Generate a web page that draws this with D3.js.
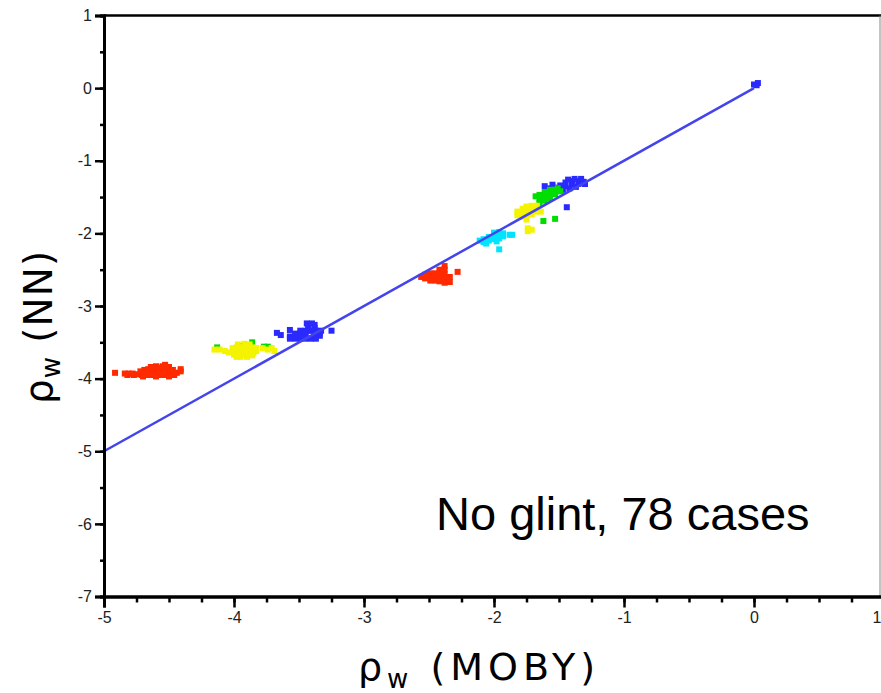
<!DOCTYPE html>
<html>
<head>
<meta charset="utf-8">
<script src="https://cdn.jsdelivr.net/npm/d3@7"></script>
<style>
  body { margin: 0; background: #fff; }
  svg { display: block; }
</style>
</head>
<body>
<script>
var w = 881;
var h = 693;

// data (rho_w MOBY vs rho_w NN)
var redPts = [
  [-4.915, -3.92], [-4.84, -3.93], [-4.81, -3.93], [-4.78, -3.93], [-4.75, -3.94], [-4.82, -3.95], [-4.77, -3.95],
  [-4.71, -3.92], [-4.68, -3.92], [-4.65, -3.91], [-4.62, -3.91], [-4.58, -3.91], [-4.55, -3.91], [-4.52, -3.91], [-4.49, -3.91], [-4.46, -3.92], [-4.44, -3.92],
  [-4.71, -3.95], [-4.68, -3.95], [-4.65, -3.95], [-4.62, -3.95], [-4.58, -3.95], [-4.55, -3.95], [-4.52, -3.95], [-4.49, -3.95], [-4.46, -3.95],
  [-4.66, -3.87], [-4.63, -3.87], [-4.6, -3.86], [-4.56, -3.87], [-4.53, -3.86], [-4.5, -3.87],
  [-4.6, -3.83], [-4.53, -3.81], [-4.55, -3.83], [-4.41, -3.87], [-4.41, -3.9],
  [-4.64, -3.84], [-4.57, -3.85], [-4.5, -3.84], [-4.47, -3.88], [-4.69, -3.88], [-4.72, -3.9],
  [-4.7, -3.97], [-4.6, -3.97], [-4.5, -3.97],
  [-2.56, -2.6], [-2.53, -2.57], [-2.53, -2.62], [-2.49, -2.55], [-2.49, -2.6], [-2.49, -2.65], [-2.45, -2.55], [-2.45, -2.6], [-2.45, -2.65],
  [-2.42, -2.5], [-2.42, -2.55], [-2.42, -2.6], [-2.42, -2.66], [-2.38, -2.45], [-2.38, -2.5], [-2.38, -2.56], [-2.38, -2.62], [-2.38, -2.68],
  [-2.34, -2.6], [-2.34, -2.67], [-2.28, -2.53]
];
var yellowPts = [
  [-4.15, -3.6], [-4.11, -3.6], [-4.07, -3.62], [-4.04, -3.64],
  [-4.01, -3.58], [-3.98, -3.57], [-3.95, -3.57], [-3.92, -3.56], [-3.89, -3.56], [-3.86, -3.57], [-3.83, -3.58],
  [-4.01, -3.62], [-3.98, -3.62], [-3.95, -3.62], [-3.92, -3.62], [-3.89, -3.62], [-3.86, -3.62], [-3.83, -3.62],
  [-4.0, -3.67], [-3.97, -3.67], [-3.94, -3.67], [-3.91, -3.67], [-3.88, -3.66], [-3.85, -3.65], [-3.95, -3.7],
  [-3.97, -3.53], [-3.92, -3.52], [-3.88, -3.53], [-3.9, -3.7], [-3.98, -3.7], [-3.86, -3.68],
  [-3.78, -3.58], [-3.74, -3.6], [-3.71, -3.58], [-3.69, -3.62],
  [-1.82, -1.75], [-1.82, -1.7], [-1.78, -1.66], [-1.78, -1.72], [-1.78, -1.77], [-1.75, -1.63], [-1.75, -1.69], [-1.75, -1.75], [-1.75, -1.81],
  [-1.71, -1.62], [-1.71, -1.68], [-1.71, -1.74], [-1.67, -1.62], [-1.67, -1.7], [-1.64, -1.7], [-1.74, -1.93], [-1.74, -1.97], [-1.71, -1.95]
];
var greenPts = [
  [-4.13, -3.57], [-3.86, -3.5], [-3.77, -3.56], [-3.74, -3.56], [-3.95, -3.55],
  [-1.68, -1.49], [-1.65, -1.47], [-1.65, -1.53], [-1.65, -1.58], [-1.61, -1.43], [-1.61, -1.49], [-1.61, -1.55], [-1.57, -1.4],
  [-1.57, -1.46], [-1.57, -1.52], [-1.53, -1.4], [-1.53, -1.46], [-1.49, -1.42], [-1.62, -1.83], [-1.53, -1.8],
  [-1.55, -1.43], [-1.59, -1.5], [-1.63, -1.51], [-1.51, -1.38]
];
var cyanPts = [
  [-2.11, -2.1], [-2.08, -2.08], [-2.08, -2.12], [-2.04, -2.05], [-2.04, -2.1], [-2.0, -2.03], [-2.0, -2.08], [-1.96, -1.98],
  [-1.96, -2.03], [-1.96, -2.07], [-1.93, -2.0], [-1.93, -2.04], [-1.88, -2.02], [-1.86, -2.02], [-1.96, -2.22],
  [-2.0, -1.99], [-1.98, -2.11], [-2.06, -2.14]
];
var bluePts = [
  [-3.67, -3.37], [-3.64, -3.4], [-3.57, -3.33], [-3.57, -3.42], [-3.53, -3.38], [-3.53, -3.42], [-3.49, -3.38], [-3.49, -3.42], [-3.45, -3.38], [-3.45, -3.42],
  [-3.43, -3.3], [-3.42, -3.34], [-3.38, -3.3], [-3.38, -3.38], [-3.38, -3.42], [-3.34, -3.38], [-3.34, -3.41], [-3.25, -3.34],
  [-3.57, -3.45], [-3.53, -3.45], [-3.49, -3.45], [-3.45, -3.45], [-3.41, -3.45], [-3.37, -3.45],
  [-3.49, -3.34], [-3.45, -3.34], [-3.41, -3.34], [-3.37, -3.34], [-3.33, -3.34],
  [-3.44, -3.24], [-3.4, -3.24], [-3.38, -3.26],
  [-1.61, -1.35], [-1.55, -1.33], [-1.49, -1.34], [-1.45, -1.3], [-1.45, -1.35], [-1.4, -1.28], [-1.4, -1.33], [-1.35, -1.28],
  [-1.35, -1.32], [-1.31, -1.29], [-1.44, -1.64], [-1.47, -1.4],
  [-1.58, -1.38], [-1.52, -1.37], [-1.52, -1.42], [-1.49, -1.38], [-1.43, -1.26], [-1.38, -1.25], [-1.33, -1.25], [-1.3, -1.32], [-1.37, -1.36], [-1.42, -1.38],
  [0.0, 0.05], [0.03, 0.07], [0.02, 0.04]
];
var series = [
  {name: "red", color: "#ff2a00", pts: redPts},
  {name: "blue", color: "#2a2aff", pts: bluePts},
  {name: "green", color: "#00dd00", pts: greenPts},
  {name: "yellow", color: "#f4f400", pts: yellowPts},
  {name: "cyan", color: "#00e4ff", pts: cyanPts}
];
var fitX = [-5, 0];
var fitY = [-5, 0];
var xTicks = [-5, -4, -3, -2, -1, 0, 1];
var yTicks = [1, 0, -1, -2, -3, -4, -5, -6, -7];

var x = d3.scaleLinear().domain([-5, 1]).range([104, 884]);
var y = d3.scaleLinear().domain([-7, 1]).range([596.5, 15.5]);

var svg = d3.select("body")
    .append("svg")
    .attr("width", w)
    .attr("height", h);

// frame: top line and thin right edge
svg.append("line")
    .attr("x1", x(-5)).attr("x2", w)
    .attr("y1", y(1)).attr("y2", y(1))
    .attr("stroke", "#000").attr("stroke-width", 2.5);
svg.append("line")
    .attr("x1", 880).attr("x2", 880)
    .attr("y1", y(1)).attr("y2", y(-7))
    .attr("stroke", "#888").attr("stroke-width", 1);

// points
series.forEach(function (s) {
    svg.append("g").selectAll("rect")
        .data(s.pts)
        .enter()
        .append("rect")
        .attr("x", function (d) { return x(d[0]) - 3; })
        .attr("y", function (d) { return y(d[1]) - 3; })
        .attr("width", 6)
        .attr("height", 6)
        .attr("fill", s.color);
});

// fitted line on top of the points
svg.append("path")
    .datum(d3.zip(fitX, fitY))
    .attr("d", d3.line().x(function (d) { return x(d[0]); }).y(function (d) { return y(d[1]); }))
    .attr("stroke", "#4444ee")
    .attr("stroke-width", 2.5)
    .attr("fill", "none");

// minor ticks
var xMinor = d3.range(-5, 1.001, 0.25);
var yMinor = d3.range(-7, 1.001, 0.5);

svg.append("g")
    .attr("transform", "translate(0," + y(-7) + ")")
    .call(d3.axisBottom(x).tickValues(xMinor).tickSize(6).tickFormat(""))
    .call(styleAxis);
svg.append("g")
    .attr("transform", "translate(" + x(-5) + ",0)")
    .call(d3.axisLeft(y).tickValues(yMinor).tickSize(4).tickFormat(""))
    .call(styleAxis);

// major ticks + labels (plain hyphen as in the picture)
function fmt(d) { return String(d); }

var xAxisG = svg.append("g")
    .attr("transform", "translate(0," + y(-7) + ")")
    .call(d3.axisBottom(x).tickValues(xTicks).tickSize(11).tickPadding(4).tickFormat(fmt))
    .call(styleAxis);
svg.append("g")
    .attr("transform", "translate(" + x(-5) + ",0)")
    .call(d3.axisLeft(y).tickValues(yTicks).tickSize(9).tickPadding(3).tickFormat(fmt))
    .call(styleAxis);

// last x label sits at the window edge
xAxisG.selectAll(".tick text")
    .filter(function (d) { return d === 1; })
    .attr("text-anchor", "end")
    .attr("dx", w - x(1));

function styleAxis(g) {
    g.select(".domain").attr("stroke", "#000").attr("stroke-width", 3);
    g.selectAll(".tick line").attr("stroke", "#000").attr("stroke-width", 2.5);
    g.selectAll(".tick text")
        .attr("fill", "#222")
        .style("font-family", "Liberation Sans, Arial, sans-serif")
        .style("font-size", "16px");
}

// axis titles
var xt = svg.append("text")
    .attr("x", 479)
    .attr("y", 680)
    .attr("text-anchor", "middle")
    .style("font-family", "DejaVu Sans, sans-serif")
    .style("font-size", "38px")
    .style("letter-spacing", "5px")
    .attr("fill", "#000");
xt.append("tspan").text("ρ");
xt.append("tspan").attr("dy", 8).style("font-size", "26px").text("w");
xt.append("tspan").attr("dy", -8).text(" (MOBY)");

var yt = svg.append("text")
    .attr("transform", "translate(52,327) rotate(-90)")
    .attr("text-anchor", "middle")
    .style("font-family", "DejaVu Sans, sans-serif")
    .style("font-size", "39px")
    .style("letter-spacing", "1px")
    .attr("fill", "#000");
yt.append("tspan").text("ρ");
yt.append("tspan").attr("dy", 8).style("font-size", "26px").text("w");
yt.append("tspan").attr("dy", -8).text(" (NN)");

// annotation
svg.append("text")
    .attr("x", 436)
    .attr("y", 530)
    .style("font-family", "Liberation Sans, Arial, sans-serif")
    .style("font-size", "47px")
    .attr("fill", "#000")
    .text("No glint, 78 cases");
</script>
</body>
</html>
